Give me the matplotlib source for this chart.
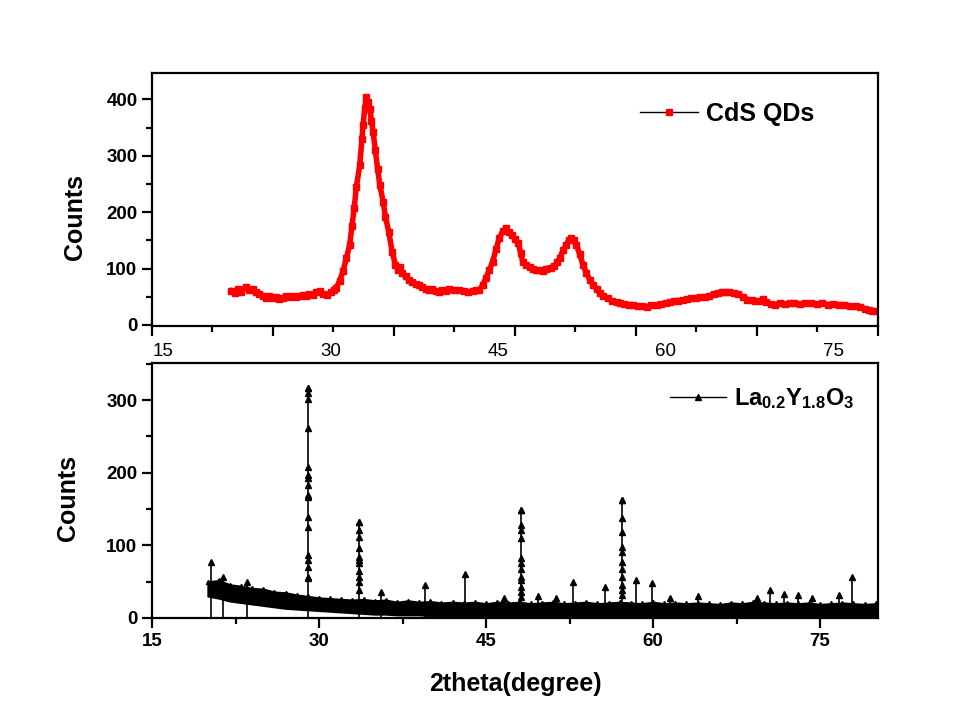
import numpy as np
import matplotlib
matplotlib.use('Agg')
import matplotlib.pyplot as plt
from matplotlib.lines import Line2D

plt.rcParams['font.family'] = ['Liberation Sans', 'DejaVu Sans']
plt.rcParams['mathtext.fontset'] = 'custom'
plt.rcParams['mathtext.rm'] = 'Liberation Sans:bold'
plt.rcParams['mathtext.it'] = 'Liberation Sans:bold'
plt.rcParams['mathtext.bf'] = 'Liberation Sans:bold'

# --- CdS QDs pattern ---
cds_x = [21.1, 21.4, 21.7, 22.0, 22.4, 22.7, 23.0, 23.3, 23.6, 23.9, 24.2, 24.5, 24.8, 25.1, 25.4,
         25.7, 26.0, 26.3, 26.6, 26.9, 27.2, 27.5, 27.8, 28.1, 28.4, 28.7, 29.0, 29.3, 29.7, 30.0,
         30.3, 30.5, 30.8, 31.1, 31.4, 31.7, 31.9, 32.1, 32.3, 32.6, 32.8, 32.9, 33.05, 33.2, 33.35,
         33.5, 33.65, 33.8, 34.0, 34.2, 34.4, 34.7, 34.9, 35.2, 35.5, 35.8, 36.0, 36.2, 36.4, 36.7,
         37.0, 37.3, 37.6, 37.9, 38.2, 38.5, 38.8, 39.1, 39.4, 39.7, 40.0, 40.3, 40.6, 41.0, 41.5,
         41.9, 42.3, 42.7, 43.0, 43.3, 43.6, 43.9, 44.2, 44.5, 44.8, 45.1, 45.4, 45.7, 45.95, 46.2,
         46.5, 46.8, 47.0, 47.2, 47.5, 47.8, 48.1, 48.4, 48.7, 49.0, 49.3, 49.7, 50.0, 50.3, 50.5,
         50.8, 51.1, 51.3, 51.5, 51.75, 52.0, 52.3, 52.6, 52.9, 53.2, 53.5, 53.8, 54.1, 54.4, 54.8,
         55.2, 55.6, 55.9, 56.3, 56.7, 57.1, 57.5, 57.9, 58.3, 58.7, 59.2, 59.6, 60.0, 60.4, 60.7,
         61.1, 61.5, 61.9, 62.3, 62.7, 63.1, 63.5, 63.9, 64.3, 64.7, 65.0, 65.3, 65.7, 66.1, 66.5,
         66.9, 67.3, 67.7, 68.0, 68.4, 68.7, 69.0, 69.4, 69.8, 70.2, 70.7, 71.1, 71.5, 72.0, 72.5,
         73.0, 73.5, 74.0, 74.5, 75.0, 75.5, 76.0, 76.5, 77.0, 77.4, 77.8, 78.2, 78.5, 78.8]
cds_y = [60, 56, 63, 58, 68, 62, 64, 59, 55, 52, 48, 52, 47, 50, 46,
         48, 51, 49, 52, 50, 51, 53, 51, 55, 53, 58, 60, 55, 53, 58,
         62, 66, 78, 95, 118, 142, 175, 207, 245, 283, 330, 354, 385, 404, 395,
         383, 362, 342, 310, 277, 248, 218, 192, 165, 130, 106, 98, 102, 92, 86,
         80, 76, 72, 70, 68, 64, 62, 63, 60, 59, 62, 60, 63, 61, 62,
         60, 58, 60, 61, 62, 70, 83, 97, 112, 134, 154, 166, 171, 165, 160,
         152, 145, 128, 112, 106, 103, 100, 97, 98, 95, 100, 101, 104, 112, 118,
         132, 142, 150, 154, 150, 142, 125, 106, 92, 80, 71, 64, 56, 51, 47,
         42, 40, 39, 37, 36, 35, 33, 34, 32, 35, 36, 37, 38, 40, 42,
         43, 44, 46, 47, 48, 50, 49, 52, 54, 56, 59, 58, 58, 57, 54,
         50, 45, 44, 43, 42, 46, 40, 37, 36, 38, 37, 38, 39, 37, 38,
         39, 37, 38, 36, 37, 36, 35, 34, 33, 31, 29, 27, 25, 24]

# --- La0.2Y1.8O3 pattern (bottom panel) ---
# noisy background, one reading per degree from 20 to 80: top and bottom of the band
band_x = list(range(20, 81))
band_top = [50, 52, 46, 44, 41, 40, 36, 35, 32, 30, 28, 27, 26, 25, 26, 24, 25, 22, 24, 22,
            23, 21, 22, 21, 22, 20, 22, 21, 22, 20, 21, 22, 20, 21, 22, 20, 21, 22, 21, 20,
            22, 20, 21, 20, 21, 20, 19, 21, 20, 22, 21, 20, 21, 20, 21, 19, 20, 21, 20, 19, 20]
band_bot = [30, 27, 23, 21, 19, 17, 15, 13, 12, 11, 10, 9, 8, 7, 6, 5, 5, 4, 4, 4,
            3, 2, 2, 2, 2, 2, 2, 2, 2, 2, 2, 2, 2, 2, 2, 2, 2, 2, 2, 2,
            2, 2, 2, 2, 2, 2, 2, 2, 2, 2, 2, 2, 2, 2, 2, 2, 2, 2, 2, 2, 2]

# reflections: position and top count
peak_x = [20.3, 21.4, 23.5, 29.0, 33.6, 35.6, 39.5, 43.1, 46.6, 48.1, 49.7, 51.3, 52.8,
          55.7, 57.2, 58.5, 59.9, 61.5, 64.0, 69.3, 70.5, 71.8, 73.0, 74.3, 76.7, 77.9]
peak_y = [77, 56, 49, 316, 132, 36, 45, 61, 27, 149, 30, 27, 50,
          42, 163, 52, 48, 27, 30, 28, 38, 33, 32, 28, 32, 57]

# points along the strong reflections
spike_x = [29.0] * 17 + [33.6] * 11 + [48.1] * 12 + [57.2] * 11
spike_y = [316, 309, 301, 261, 208, 197, 193, 183, 169, 166, 139, 125, 87, 80, 70, 56, 55,
           132, 121, 112, 96, 84, 80, 75, 64, 57, 50, 39,
           149, 128, 121, 110, 82, 75, 68, 57, 52, 43, 36, 29,
           163, 137, 119, 98, 91, 77, 68, 57, 45, 39, 32]

top_labels = [15, 30, 45, 60, 75]

fig = plt.figure(figsize=(9.59, 7.19), dpi=100, facecolor='white')
ax1 = fig.add_axes([0.1585, 0.5466, 0.757, 0.352])
ax2 = fig.add_axes([0.1585, 0.1405, 0.757, 0.3547])

for ax in (ax1, ax2):
    for s in ax.spines.values():
        s.set_linewidth(1.6)
    ax.tick_params(which='major', length=7, width=1.6, direction='out', top=False, right=False)
    ax.tick_params(which='minor', length=4, width=1.6, direction='out', top=False, right=False)

# --- top panel ---
ax1.plot(cds_x, cds_y, color='red', lw=4, marker='s', ms=4, mfc='red', mec='red')
ax1.set_xlim(14, 79)
ax1.set_ylim(-2, 447)
ax1.set_xticks(np.linspace(14, 79, 7))
ax1.set_xticks(np.linspace(14, 79, 13), minor=True)
ax1.set_xticklabels([])
ax1.set_yticks([0, 100, 200, 300, 400])
ax1.set_yticks(np.arange(0, 450, 50), minor=True)
sec = ax1.secondary_xaxis('bottom')
sec.set_xticks(top_labels, labels=[str(v) for v in top_labels])
sec.tick_params(length=0, pad=12, labelsize=13.5)
sec.spines['bottom'].set_visible(False)
for t in ax1.get_yticklabels():
    t.set_fontweight('bold')
    t.set_fontsize(13.5)
ax1.set_ylabel('Counts', fontsize=18, fontweight='bold')
ax1.yaxis.set_label_coords(-0.090, 0.43)

h1 = Line2D([], [], color='black', lw=1, marker='s', ms=4, mfc='red', mec='red')
ax1.legend([h1], ['CdS QDs'], loc='center left', bbox_to_anchor=(0.672, 0.838),
           frameon=False, prop={'size': 18, 'weight': 'bold'}, handlelength=2.32,
           handletextpad=0.32, borderpad=0, borderaxespad=0, numpoints=1)

# --- bottom panel ---
ax2.fill_between(band_x, band_bot, band_top, color='black', lw=1.2, edgecolor='black')
ax2.plot(band_x, band_top, ls='none', marker='^', ms=3, color='black')
ax2.vlines(peak_x, 0, peak_y, color='black', lw=1.2)
ax2.plot(peak_x, peak_y, ls='none', marker='^', ms=4, color='black')
ax2.plot(spike_x, spike_y, ls='none', marker='^', ms=4, color='black')
ax2.set_xlim(15, 80.2)
ax2.set_ylim(0, 351)
ax2.set_xticks([15, 30, 45, 60, 75])
ax2.set_xticks([22.5, 37.5, 52.5, 67.5], minor=True)
ax2.set_yticks([0, 100, 200, 300])
ax2.set_yticks(np.arange(0, 351, 50), minor=True)
for t in ax2.get_xticklabels() + ax2.get_yticklabels():
    t.set_fontweight('bold')
    t.set_fontsize(13.5)
ax2.set_ylabel('Counts', fontsize=18, fontweight='bold')
ax2.yaxis.set_label_coords(-0.099, 0.47)
ax2.set_xlabel('2theta(degree)', fontsize=18, fontweight='bold', labelpad=16)

h2 = Line2D([], [], color='black', lw=1, marker='^', ms=4, mfc='black', mec='black')
ax2.legend([h2], [r'La$_{0.2}$Y$_{1.8}$O$_{3}$'], loc='center left', bbox_to_anchor=(0.713, 0.859),
           frameon=False, prop={'size': 17, 'weight': 'bold'}, handlelength=2.4,
           handletextpad=0.34, borderpad=0, borderaxespad=0, numpoints=1)

fig.savefig('out.png', dpi=100, facecolor='white')
